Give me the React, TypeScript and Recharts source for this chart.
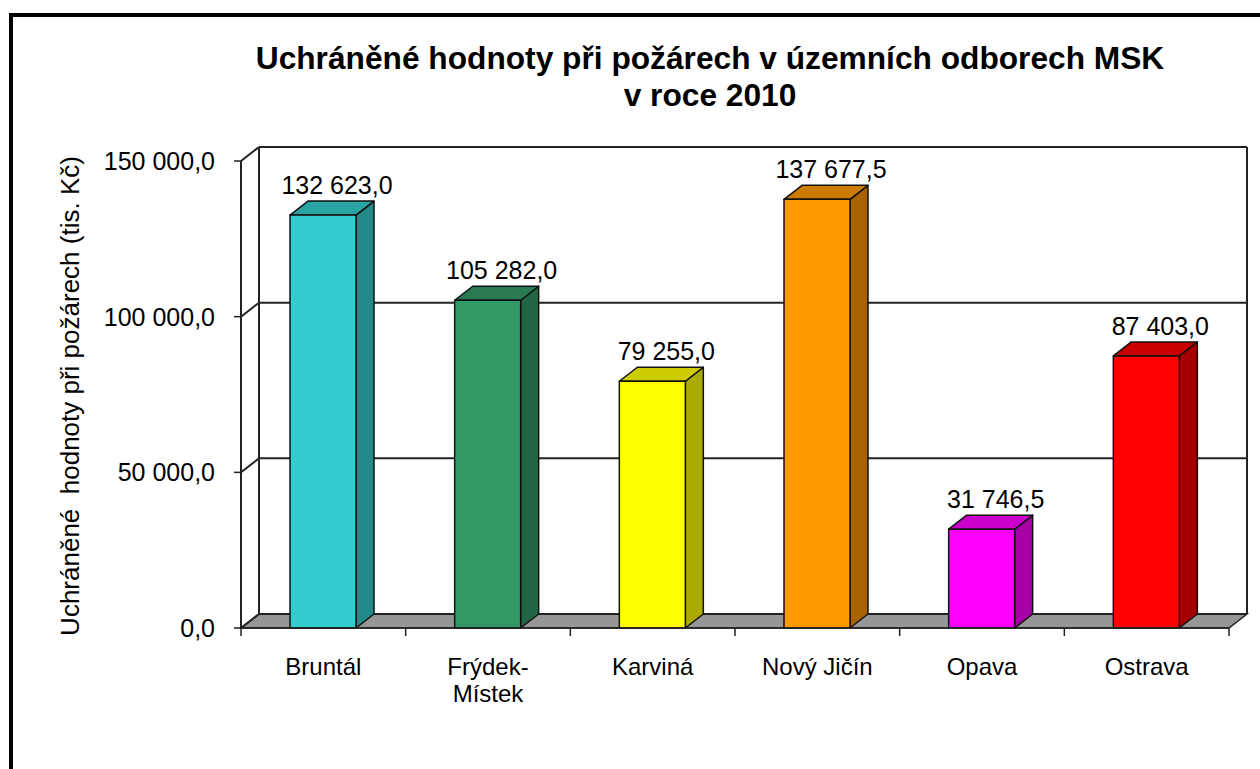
import React from "react";
import { BarChart, Bar, XAxis, YAxis, CartesianGrid, LabelList } from "recharts";

// values in tis. Kč, per territorial department
const categories = ["Bruntál", "Frýdek-Místek", "Karviná", "Nový Jičín", "Opava", "Ostrava"];
const values = [132623.0, 105282.0, 79255.0, 137677.5, 31746.5, 87403.0];
const yTicks = [0, 50000, 100000, 150000];

const titleLines = ["Uchráněné hodnoty při požárech v územních odborech MSK", "v roce 2010"];
const yTitle = "Uchráněné  hodnoty při požárech (tis. Kč)";

const frontColors = ["#33CCCC", "#339966", "#FFFF00", "#FF9900", "#FF00FF", "#FF0000"];
const topColors = ["#29A3A3", "#297A52", "#CCCC00", "#CC7A00", "#CC00CC", "#C80000"];
const sideColors = ["#228888", "#236645", "#AAAA00", "#A66300", "#A600A6", "#A60000"];

const data = categories.map((name, i) => ({ name, value: values[i] }));

// depth of the fake 3D walls / bars
const DX = 18;
const DY = 14;
const FONT = '"Liberation Sans", Arial, sans-serif';
const LINE = "#222";

const fmt = (v: number) => {
  const [int, dec] = v.toFixed(1).split(".");
  return int.replace(/\B(?=(\d{3})+(?!\d))/g, " ") + "," + dec;
};

function Bar3D(props: any) {
  const { x, y, width, height, index } = props;
  const r = x + width;
  return (
    <g stroke="#111" strokeWidth={1.5} strokeLinejoin="round">
      <polygon
        points={`${r},${y} ${r + DX},${y - DY} ${r + DX},${y + height - DY} ${r},${y + height}`}
        fill={sideColors[index]}
      />
      <polygon
        points={`${x},${y} ${r},${y} ${r + DX},${y - DY} ${x + DX},${y - DY}`}
        fill={topColors[index]}
      />
      <rect x={x} y={y} width={width} height={height} fill={frontColors[index]} />
    </g>
  );
}

// back wall gridline + the diagonal on the side wall; floor on the zero line
function WallLine(p: any) {
  const { x1, x2, y1 } = p;
  const isFloor = typeof p.y === "number" && typeof p.height === "number" && Math.abs(y1 - (p.y + p.height)) < 1;
  return (
    <g key={`h-${y1}`}>
      {isFloor && (
        <polygon
          points={`${x1},${y1} ${x2},${y1} ${x2 + DX},${y1 - DY} ${x1 + DX},${y1 - DY}`}
          fill="#969696"
          stroke={LINE}
          strokeWidth={1.5}
        />
      )}
      <line x1={x1 + DX} y1={y1 - DY} x2={x2 + DX} y2={y1 - DY} stroke={LINE} strokeWidth={2} />
      <line x1={x1} y1={y1} x2={x1 + DX} y2={y1 - DY} stroke={LINE} strokeWidth={2} />
    </g>
  );
}

// category boundary ticks and wall edges
function WallEdge(p: any) {
  const { x1, y1, y2 } = p;
  const isLeft = Math.abs(x1 - p.x) < 1;
  const isRight = Math.abs(x1 - (p.x + p.width)) < 1;
  return (
    <g key={`v-${x1}`}>
      <line x1={x1} y1={y2} x2={x1} y2={y2 + 8} stroke={LINE} strokeWidth={1.5} />
      {(isLeft || isRight) && (
        <line x1={x1 + DX} y1={y1 - DY} x2={x1 + DX} y2={y2 - DY} stroke={LINE} strokeWidth={2} />
      )}
    </g>
  );
}

function CategoryTick(props: any) {
  const { x, y, payload } = props;
  const s = String(payload.value);
  const k = s.indexOf("-");
  const lines = k >= 0 ? [s.slice(0, k + 1), s.slice(k + 1)] : [s];
  return (
    <text x={x} y={y + 39} textAnchor="middle" fontSize={24} fontFamily={FONT} fill="#000">
      {lines.map((l, i) => (
        <tspan key={i} x={x} dy={i === 0 ? 0 : 27}>
          {l}
        </tspan>
      ))}
    </text>
  );
}

function ValueLabel(props: any) {
  const { x, y, width, value } = props;
  return (
    <text x={x + width / 2 + 14} y={y - 21} textAnchor="middle" fontSize={25} fontFamily={FONT} fill="#000">
      {fmt(Number(value))}
    </text>
  );
}

export default function App() {
  return (
    <div style={{ position: "absolute", left: 0, top: 0, width: 1260, height: 769, overflow: "hidden", background: "#fff" }}>
      <div
        style={{
          position: "absolute",
          left: 9,
          top: 13,
          width: 1400,
          height: 900,
          border: "4px solid #000",
          boxSizing: "border-box",
        }}
      />
      <div style={{ position: "absolute", left: 0, top: 0 }}>
        <BarChart
          width={1260}
          height={769}
          data={data}
          margin={{ top: 161, right: 31, bottom: 81, left: 141 }}
          barSize={66}
        >
          <CartesianGrid
            horizontal={WallLine}
            vertical={WallEdge}
            verticalCoordinatesGenerator={({ offset }: any) =>
              Array.from({ length: categories.length + 1 }, (_, i) => offset.left + (i * offset.width) / categories.length)
            }
          />
          <XAxis
            dataKey="name"
            height={60}
            tickLine={false}
            axisLine={{ stroke: LINE, strokeWidth: 1.5 }}
            tick={<CategoryTick />}
            interval={0}
          />
          <YAxis
            width={100}
            domain={[0, 150000]}
            ticks={yTicks}
            tickSize={7}
            tickMargin={19}
            tickFormatter={fmt}
            axisLine={{ stroke: LINE, strokeWidth: 2 }}
            tickLine={{ stroke: LINE, strokeWidth: 1.5 }}
            tick={{ fontSize: 25, fill: "#000", fontFamily: FONT }}
          />
          <Bar dataKey="value" shape={<Bar3D />} isAnimationActive={false}>
            <LabelList dataKey="value" content={<ValueLabel />} />
          </Bar>
        </BarChart>
      </div>
      <svg width={1260} height={769} style={{ position: "absolute", left: 0, top: 0, pointerEvents: "none" }}>
        {titleLines.map((t, i) => (
          <text
            key={i}
            x={710}
            y={69 + i * 37}
            textAnchor="middle"
            fontSize={31.7}
            fontWeight="bold"
            fontFamily={FONT}
            fill="#000"
          >
            {t}
          </text>
        ))}
        <text
          transform="translate(70,396) rotate(-90)"
          textAnchor="middle"
          dominantBaseline="central"
          fontSize={26}
          fontFamily={FONT}
          fill="#000"
          style={{ whiteSpace: "pre" }}
        >
          {yTitle}
        </text>
      </svg>
    </div>
  );
}
